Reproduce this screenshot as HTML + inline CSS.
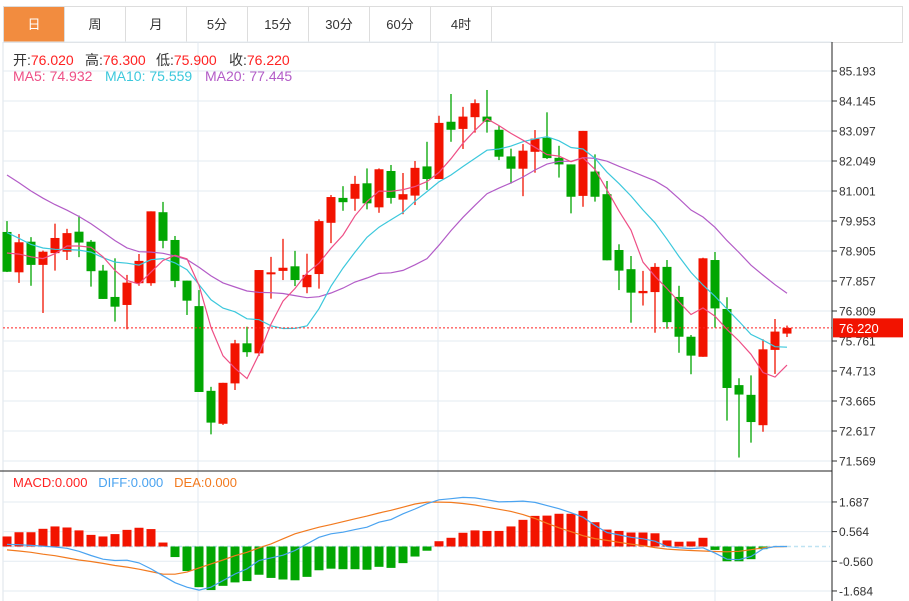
<!DOCTYPE html>
<html><head><meta charset="utf-8"><style>
body{margin:0;background:#fff;width:909px;height:601px;overflow:hidden;font-family:"Liberation Sans","Noto Sans CJK SC",sans-serif}
#tabs{position:absolute;left:3px;top:6px;width:898px;height:35px;border:1px solid #ddd;display:flex}
.tab{width:60px;border-right:1px solid #ddd;text-align:center;line-height:35px;font-size:13px;color:#333}
.tab.on{background:#f28c3f;color:#fff}
.lg{position:absolute;font-size:14px;white-space:nowrap}
</style></head><body>
<div id="tabs">
<div class="tab on">日</div>
<div class="tab">周</div>
<div class="tab">月</div>
<div class="tab">5分</div>
<div class="tab">15分</div>
<div class="tab">30分</div>
<div class="tab">60分</div>
<div class="tab">4时</div>
</div>
<svg id="c" width="909" height="601" style="position:absolute;left:0;top:0"></svg>
<div>
<span class="lg" style="left:13px;top:50px;color:#333">开:<span style="color:#f22">76.020</span></span>
<span class="lg" style="left:85px;top:50px;color:#333">高:<span style="color:#f22">76.300</span></span>
<span class="lg" style="left:156px;top:50px;color:#333">低:<span style="color:#f22">75.900</span></span>
<span class="lg" style="left:229px;top:50px;color:#333">收:<span style="color:#f22">76.220</span></span>
</div>
<div>
<span class="lg" style="left:13px;top:68px;color:#ee4f86">MA5: 74.932</span>
<span class="lg" style="left:105px;top:68px;color:#3cc8dc">MA10: 75.559</span>
<span class="lg" style="left:205px;top:68px;color:#b35cc7">MA20: 77.445</span>
</div>
<div class="lg" style="left:13px;top:475px;font-size:13px"><span style="color:#f22">MACD:0.000</span>&nbsp;&nbsp; <span style="color:#4aa3f0">DIFF:0.000</span>&nbsp;&nbsp; <span style="color:#f27a1f">DEA:0.000</span></div>
<script>
const opens=[79.57,78.16,79.23,78.42,78.83,78.88,79.58,79.23,78.22,77.30,77.02,77.78,77.78,80.26,79.29,77.87,76.98,74.02,72.87,74.28,75.68,75.33,78.09,78.21,78.37,77.64,78.10,79.89,80.76,80.73,81.27,80.43,81.70,80.70,80.84,81.86,81.42,83.42,83.17,83.58,83.60,83.14,82.21,81.78,82.37,82.86,82.16,81.93,80.83,81.68,80.89,78.94,78.27,77.43,77.47,78.35,77.30,75.91,75.21,78.59,76.88,74.22,73.88,72.82,75.45,76.02];
const highs=[79.95,79.50,79.39,78.92,79.86,79.68,80.14,79.29,78.42,78.65,78.07,78.80,80.29,80.62,79.43,77.87,77.54,74.16,74.30,75.80,76.26,78.24,78.70,79.33,78.91,78.81,80.01,80.86,81.17,81.53,81.79,81.79,81.91,81.63,82.05,82.72,83.63,84.39,83.94,84.20,84.53,83.28,82.48,82.64,83.13,83.75,82.58,81.93,83.10,82.28,81.35,79.14,78.73,78.21,78.48,78.59,77.69,75.97,78.67,78.87,77.29,74.46,74.56,75.82,76.53,76.30];
const lows=[78.17,77.79,77.69,76.74,78.22,78.59,78.69,77.66,77.23,76.44,76.17,77.69,77.69,79.00,77.64,76.67,73.98,72.50,72.83,74.05,75.21,75.24,77.24,77.89,77.68,77.43,77.59,79.18,80.31,80.31,80.36,80.24,80.56,80.19,80.51,81.04,81.42,82.72,82.47,83.04,83.04,82.08,81.26,80.82,81.64,82.12,81.47,80.22,80.45,80.63,78.58,77.54,76.40,77.00,76.05,76.19,75.35,74.60,75.21,76.23,72.98,71.69,72.21,72.59,74.61,75.90];
const closes=[78.18,79.21,78.42,78.88,79.36,79.53,79.20,78.20,77.23,76.96,77.80,78.56,80.29,79.26,77.86,77.17,73.98,72.91,74.30,75.68,75.37,78.24,78.16,78.32,77.89,78.07,79.95,80.79,80.61,81.25,80.57,81.76,80.76,80.89,81.81,81.42,83.38,83.14,83.60,84.07,83.42,82.20,81.78,82.41,82.83,82.15,81.93,80.80,83.10,80.80,78.58,78.22,77.45,77.51,78.35,76.42,75.91,75.25,78.65,76.90,74.12,73.89,72.93,75.47,76.09,76.22];
const priorCloses=[84.6,84.2,83.9,83.8,83.5,83.6,83.2,83.1,82.9,82.9,81.2,80.6,80.1,79.8,79.6,79.4,78.9,79.2,78.5];
const macdHist=[0.38,0.54,0.54,0.67,0.76,0.72,0.61,0.44,0.38,0.47,0.63,0.71,0.66,0.15,-0.40,-0.93,-1.54,-1.65,-1.49,-1.36,-1.31,-1.07,-1.19,-1.25,-1.28,-1.15,-0.90,-0.84,-0.86,-0.86,-0.88,-0.77,-0.81,-0.63,-0.38,-0.16,0.20,0.33,0.52,0.61,0.59,0.59,0.76,1.01,1.16,1.17,1.24,1.24,1.35,0.92,0.64,0.59,0.53,0.53,0.50,0.23,0.18,0.19,0.33,-0.13,-0.56,-0.56,-0.48,-0.10,0,0];
const diffLine=[0.08,0.07,0.04,0.01,-0.02,-0.07,-0.18,-0.34,-0.48,-0.53,-0.52,-0.62,-0.85,-1.11,-1.37,-1.54,-1.65,-1.54,-1.29,-1.04,-0.85,-0.53,-0.43,-0.33,-0.15,0.10,0.35,0.48,0.54,0.64,0.73,0.92,1.02,1.24,1.42,1.62,1.77,1.81,1.86,1.84,1.77,1.69,1.70,1.72,1.67,1.55,1.43,1.28,1.11,0.80,0.53,0.44,0.35,0.29,0.20,0,-0.05,-0.08,-0.05,-0.25,-0.48,-0.50,-0.38,-0.09,0,0];
const deaLine=[-0.13,-0.17,-0.22,-0.29,-0.35,-0.43,-0.51,-0.57,-0.64,-0.72,-0.78,-0.86,-0.95,-1.05,-1.05,-0.97,-0.81,-0.66,-0.51,-0.35,-0.22,-0.05,0.10,0.29,0.48,0.61,0.73,0.83,0.94,1.05,1.15,1.27,1.37,1.49,1.61,1.68,1.68,1.67,1.63,1.57,1.49,1.41,1.33,1.21,1.06,0.88,0.71,0.56,0.41,0.30,0.23,0.16,0.09,0.03,-0.04,-0.10,-0.13,-0.15,-0.17,-0.19,-0.20,-0.18,-0.12,-0.05,-0.01,0];
const priceTicks=[85.193,84.145,83.097,82.049,81.001,79.953,78.905,77.857,76.809,75.761,74.713,73.665,72.617,71.569];
const macdTicks=[1.687,0.564,-0.560,-1.684];
const lastPrice=76.220;

const svg=document.getElementById('c');const NS='http://www.w3.org/2000/svg';
function mk(t,a,parent){const e=document.createElementNS(NS,t);for(const k in a)e.setAttribute(k,a[k]);(parent||svg).appendChild(e);return e;}
const X=i=>7+12*i;
const Y=p=>71+(85.193-p)*(390/13.624);
const MY=v=>546.5-v*(89/3.371);
const AX=832;
mk('line',{x1:3,y1:42,x2:3,y2:601,stroke:'#dde3ea'});
mk('line',{x1:3,y1:42,x2:AX,y2:42,stroke:'#e3ebf2'});
[198,438,715].forEach(x=>{const g=mk('line',{x1:x,y1:42,x2:x,y2:601,stroke:'#e1e9f1'});});
priceTicks.forEach(p=>{const y=Y(p);
const g=mk('line',{x1:3,y1:y,x2:AX,y2:y,stroke:'#e3ebf2'});
mk('line',{x1:AX,y1:y,x2:AX+5,y2:y,stroke:'#333'});
const t=mk('text',{x:AX+7,y:y+4.5,'font-size':12,fill:'#333','font-family':'Liberation Sans, sans-serif'});t.textContent=p.toFixed(3);
});
macdTicks.forEach(v=>{const y=MY(v);
const g=mk('line',{x1:3,y1:y,x2:AX,y2:y,stroke:'#e3ebf2'});
mk('line',{x1:AX,y1:y,x2:AX+5,y2:y,stroke:'#333'});
const t=mk('text',{x:AX+7,y:y+4.5,'font-size':12,fill:'#333','font-family':'Liberation Sans, sans-serif'});t.textContent=v.toFixed(3);
});
mk('line',{x1:3,y1:MY(0),x2:AX-2,y2:MY(0),stroke:'#bfe3f2','stroke-dasharray':'4,3','stroke-width':1.5});
const RED='#f21300',GRN='#02a602';
for(let i=0;i<closes.length;i++){const up=closes[i]>=opens[i];const col=up?RED:GRN;const x=X(i);
const w=mk('line',{x1:x,y1:Y(highs[i]),x2:x,y2:Y(lows[i]),stroke:col,'stroke-width':1.3});

const t=Y(Math.max(opens[i],closes[i])),b=Y(Math.min(opens[i],closes[i]));
const r=mk('rect',{x:x-4.5,y:t,width:9,height:Math.max(1.5,b-t),fill:col});
}
const all=priorCloses.concat(closes);
function ma(n,col,name){let pts=[];for(let i=0;i<closes.length;i++){const k=i+priorCloses.length;let s=0;for(let j=k-n+1;j<=k;j++)s+=all[j];pts.push(X(i)+','+Y(s/n).toFixed(1));}
const l=mk('polyline',{points:pts.join(' '),fill:'none',stroke:col,'stroke-width':1.2});}
ma(20,'#b35cc7','ma20-line');ma(10,'#3cc8dc','ma10-line');ma(5,'#ee4f86','ma5-line');
mk('line',{x1:3,y1:Y(lastPrice),x2:AX,y2:Y(lastPrice),stroke:'#f22','stroke-dasharray':'2,2'});
const pb=mk('rect',{x:AX+1,y:Y(lastPrice)-9.5,width:70,height:19,fill:'#f21300'});
const pt=mk('text',{x:AX+7,y:Y(lastPrice)+5,'font-size':13,fill:'#fff','font-family':'Liberation Sans, sans-serif'});pt.textContent=lastPrice.toFixed(3);
for(let i=0;i<macdHist.length;i++){const v=macdHist[i];if(v===0)continue;const y0=MY(0),y1=MY(v);
const r=mk('rect',{x:X(i)-4.5,y:Math.min(y0,y1),width:9,height:Math.abs(y1-y0),fill:v>0?RED:GRN});
}
function line(arr,col,name){const l=mk('polyline',{points:arr.map((v,i)=>X(i)+','+MY(v).toFixed(1)).join(' '),fill:'none',stroke:col,'stroke-width':1.2});}
line(deaLine,'#f27a1f','dea-line');line(diffLine,'#4aa3f0','diff-line');
mk('line',{x1:AX,y1:42,x2:AX,y2:601,stroke:'#222'});
mk('line',{x1:0,y1:471,x2:AX,y2:471,stroke:'#222'});
</script>
</body></html>
